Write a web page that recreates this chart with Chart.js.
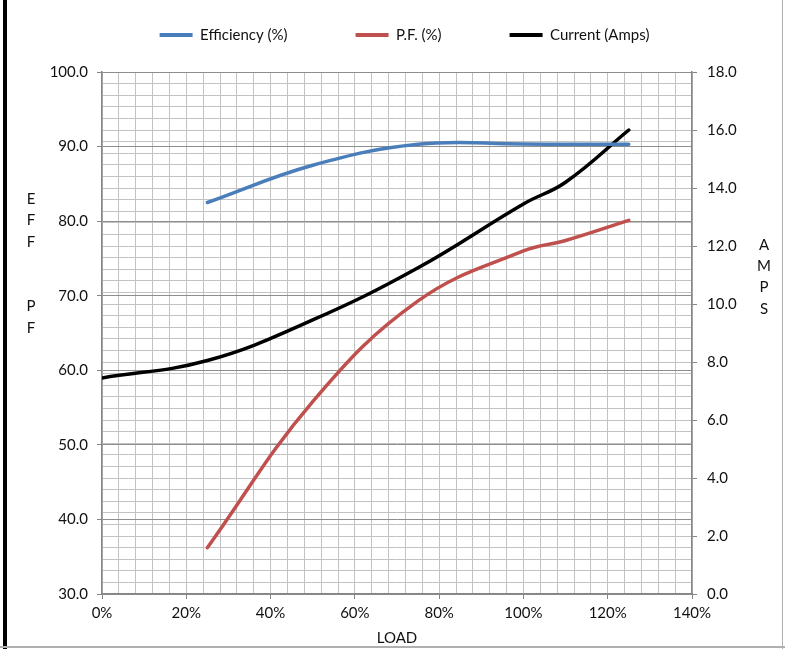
<!DOCTYPE html>
<html><head><meta charset="utf-8">
<script src="https://cdn.jsdelivr.net/npm/chart.js@4/dist/chart.umd.min.js"></script>
<style>html,body{margin:0;padding:0;background:#fff;} #wrap{width:785px;height:649px;position:relative;}</style>
</head><body><div id="wrap"><canvas id="c" width="785" height="649"></canvas></div>
<script>
// ---- data ----
const loadPct = [25, 50, 75, 100, 110, 125];
const efficiency = [82.5, 87.5, 90.3, 90.35, 90.3, 90.3];
const powerFactor = [36.2, 55.8, 69.3, 76.0, 77.4, 80.1];
const currentLoad = [0, 25, 50, 75, 100, 110, 125];
const currentAmps = [7.45, 8.05, 9.45, 11.25, 13.45, 14.2, 16.0];
const seriesNames = ['Efficiency (%)', 'P.F. (%)', 'Current (Amps)'];
const effTicks = [30, 40, 50, 60, 70, 80, 90, 100];
const ampTickLabels = [0, 2, 4, 6, 8, 10, 12, 14, 16, 18];
const loadTickLabels = [0, 20, 40, 60, 80, 100, 120, 140];
const leftTitle = ['E', 'F', 'F', '', '', 'P', 'F'];
const rightTitle = ['A', 'M', 'P', 'S'];

// minor grid positions
const xGrid = []; for (let v = 0; v <= 140; v += 4) xGrid.push(v);
const ampGrid = []; for (let i = 0; i <= 45; i++) ampGrid.push(Math.round(i * 0.4 * 10) / 10);

const FONT = { family: 'Lato, "Open Sans", sans-serif', size: 15 };
const TXT = '#111';
const pts = (xs, ys) => xs.map((x, i) => ({ x, y: ys[i] }));

const decor = {
  id: 'decor',
  beforeLayout(chart) {
    const lg = chart.legend;
    if (lg && !lg._fitPatched) {
      const orig = lg.fit;
      lg.fit = function () { orig.call(this); this.height = 72; };
      lg._fitPatched = true;
    }
  },
  afterLayout(chart) {
    const lg = chart.legend;
    if (lg) { lg.top = 35 - 68 - 7.5; lg.left += 12; lg.right += 12; }
  },
  afterDraw(chart) {
    const ctx = chart.ctx;
    ctx.save();
    ctx.fillStyle = '#000'; ctx.fillRect(3, 0, 4, 649);
    ctx.fillStyle = '#b0b0b0'; ctx.fillRect(782, 0, 1, 649); ctx.fillRect(0, 646, 785, 2);
    ctx.font = '15px ' + FONT.family; ctx.fillStyle = TXT;
    ctx.textAlign = 'center'; ctx.textBaseline = 'middle';
    leftTitle.forEach((ch, i) => ctx.fillText(ch, 31, 199 + i * 21.5));
    rightTitle.forEach((ch, i) => ctx.fillText(ch, 764, 245 + i * 21.3));
    ctx.restore();
  }
};

new Chart(document.getElementById('c'), {
  type: 'line',
  data: {
    datasets: [
      { label: seriesNames[0], data: pts(loadPct, efficiency), yAxisID: 'y', borderColor: '#4a7ebb', backgroundColor: '#4a7ebb', borderWidth: 3.5, pointRadius: 0, tension: 0.4, borderCapStyle: 'round' },
      { label: seriesNames[1], data: pts(loadPct, powerFactor), yAxisID: 'y', borderColor: '#c0504d', backgroundColor: '#c0504d', borderWidth: 3.5, pointRadius: 0, tension: 0.4, borderCapStyle: 'round' },
      { label: seriesNames[2], data: pts(currentLoad, currentAmps), yAxisID: 'y2', borderColor: '#000', backgroundColor: '#000', borderWidth: 3.5, pointRadius: 0, tension: 0.4, borderCapStyle: 'round' }
    ]
  },
  options: {
    responsive: false, animation: false, devicePixelRatio: 1,
    layout: { padding: 0 },
    plugins: {
      tooltip: { enabled: false },
      legend: {
        position: 'top', fullSize: true,
        labels: {
          font: FONT, color: TXT, boxWidth: 33, boxHeight: 4, padding: 68,
          generateLabels(chart) {
            return chart.data.datasets.map((d, i) => ({ text: d.label, fillStyle: d.borderColor, strokeStyle: d.borderColor, lineWidth: 0, hidden: false, datasetIndex: i, fontColor: TXT }));
          }
        }
      }
    },
    scales: {
      x: {
        type: 'linear', position: 'bottom', min: 0, max: 140,
        afterBuildTicks: s => { s.ticks = xGrid.map(v => ({ value: v })); },
        ticks: { autoSkip: false, maxRotation: 0, padding: 5, font: FONT, color: TXT,
          callback: v => loadTickLabels.includes(Math.round(v)) ? Math.round(v) + '%' : '' },
        grid: { color: '#c2c2c2', lineWidth: 1, tickLength: 5,
          tickColor: c => (c.tick && loadTickLabels.includes(Math.round(c.tick.value))) ? '#868686' : 'rgba(0,0,0,0)' },
        border: { color: '#868686', width: 1.5 },
        title: { display: true, text: 'LOAD', font: FONT, color: TXT, padding: { top: 0, bottom: 2 } },
        afterFit: s => { s.height = 55; }
      },
      y2: {
        position: 'right', min: 0, max: 18,
        afterBuildTicks: s => { s.ticks = ampGrid.map(v => ({ value: v })); },
        ticks: { autoSkip: false, padding: 10, font: FONT, color: TXT,
          callback: v => ampTickLabels.includes(Math.round(v * 10) / 10) ? v.toFixed(1) : '' },
        grid: { color: '#c2c2c2', lineWidth: 1, tickLength: 5,
          tickColor: c => (c.tick && ampTickLabels.includes(Math.round(c.tick.value * 10) / 10)) ? '#868686' : 'rgba(0,0,0,0)' },
        border: { color: '#868686', width: 1.5 },
        afterFit: s => { s.width = 93; }
      },
      y: {
        position: 'left', min: 30, max: 100,
        afterBuildTicks: s => { s.ticks = effTicks.map(v => ({ value: v })); },
        ticks: { autoSkip: false, padding: 9, font: FONT, color: TXT, callback: v => Number(v).toFixed(1) },
        grid: { color: '#8e8e8e', lineWidth: 1, tickLength: 5, tickColor: '#868686' },
        border: { color: '#868686', width: 1.5 },
        afterFit: s => { s.width = 102; }
      }
    }
  },
  plugins: [decor]
});
</script></body></html>
